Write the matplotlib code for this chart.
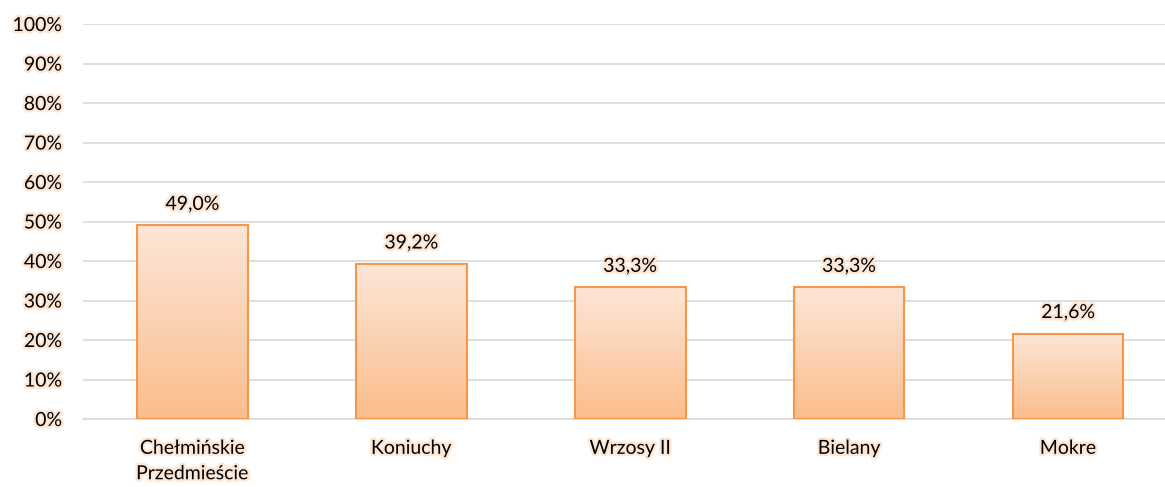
import matplotlib.pyplot as plt
import matplotlib.patheffects as pe
from matplotlib.colors import LinearSegmentedColormap
import numpy as np

districts = ["Chełmińskie\nPrzedmieście", "Koniuchy", "Wrzosy II", "Bielany", "Mokre"]
shares = [49.0, 39.2, 33.3, 33.3, 21.6]
yticks = [0, 10, 20, 30, 40, 50, 60, 70, 80, 90, 100]

plt.rcParams['font.family'] = ['Lato', 'DejaVu Sans']
glow = [pe.withStroke(linewidth=3.5, foreground="#fde6d4")]

fig = plt.figure(figsize=(11.65, 4.87), dpi=100)
ax = fig.add_axes([83 / 1165, 68 / 487, 1 - 83 / 1165, 395 / 487])

x = np.arange(len(districts))
bars = ax.bar(x, shares, width=0.505, facecolor="none", edgecolor="#f79646", linewidth=1.5, zorder=3)

# vertical gradient fill clipped to each bar
grad = np.linspace(0, 1, 256).reshape(-1, 1)
cmap = LinearSegmentedColormap.from_list("peach", ["#fbbd8c", "#fde6d7"])
for b in bars:
    x0, y0 = b.get_x(), b.get_y()
    w, h = b.get_width(), b.get_height()
    im = ax.imshow(grad, cmap=cmap, extent=[x0, x0 + w, y0, y0 + h], origin="lower",
                   aspect="auto", zorder=2)
    im.set_clip_path(b)

for xi, v in zip(x, shares):
    ax.text(xi, v + 3.2, f"{v:.1f}%".replace(".", ","), ha="center", va="bottom",
            fontsize=14, color="#000000", path_effects=glow)

ax.set_xlim(-0.5, -0.5 + (1165 - 82.5) / 219)
ax.set_ylim(0, 100)
ax.set_yticks(yticks)
ax.set_yticklabels([f"{t}%" for t in yticks], fontsize=14)
for t in ax.get_yticklabels():
    t.set_path_effects(glow)
ax.set_xticks(x)
ax.set_xticklabels(districts, fontsize=14, linespacing=1.6)
for t in ax.get_xticklabels():
    t.set_path_effects(glow)

ax.grid(axis="y", color="#d9d9d9", linewidth=1.2, zorder=0)
ax.set_axisbelow(True)
for s in ["top", "right", "left"]:
    ax.spines[s].set_visible(False)
ax.spines["bottom"].set_color("#d9d9d9")
ax.spines["bottom"].set_linewidth(1.2)
ax.tick_params(axis="y", length=0, pad=15)
ax.tick_params(axis="x", length=0, pad=15)

fig.savefig("out.png", dpi=100)
